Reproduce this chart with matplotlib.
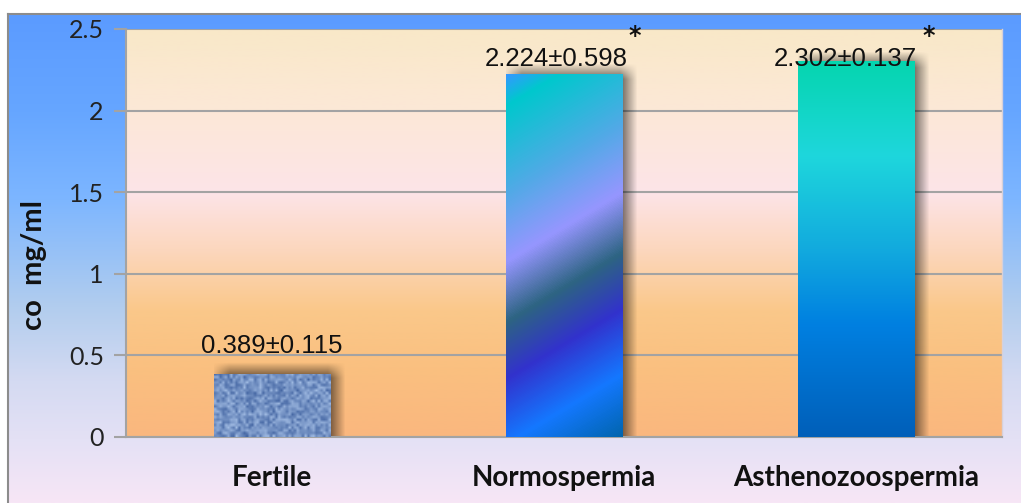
import numpy as np
import matplotlib
matplotlib.use("Agg")
import matplotlib.pyplot as plt

# ── Data ──────────────────────────────────────────────────────────────
groups = ["Fertile", "Normospermia", "Asthenozoospermia"]
means  = [0.389, 2.224, 2.302]
sds    = [0.115, 0.598, 0.137]
sig    = ["", "*", "*"]
yticks = [0, 0.5, 1, 1.5, 2, 2.5]
ylabel = "co  mg/ml"

# ── Helpers ───────────────────────────────────────────────────────────
def grad(stops, n):
    """stops: list of (pos, (r,g,b)) -> n x 3 array"""
    pos = np.array([p for p, _ in stops])
    cols = np.array([c for _, c in stops], float) / 255
    t = np.linspace(0, 1, n)
    return np.stack([np.interp(t, pos, cols[:, k]) for k in range(3)], axis=1)

W, H = 1021, 503
fig = plt.figure(figsize=(W / 100, H / 100), dpi=100)
fig.patch.set_facecolor("white")

# outer frame with blue -> lavender gradient
bg = fig.add_axes([8 / W, 0, (W - 8) / W, (H - 14) / H])
bg_stops = [(0.0, (91, 155, 255)), (0.2, (102, 166, 255)), (0.38, (125, 182, 255)),
            (0.6, (178, 205, 238)), (0.75, (212, 218, 242)), (0.87, (228, 225, 245)),
            (1.0, (247, 230, 246))]
bg.imshow(grad(bg_stops, 300)[:, None, :], aspect="auto", extent=[0, 1, 0, 1])
bg.set_xticks([]); bg.set_yticks([])
for sp in bg.spines.values():
    sp.set_color("#8c8c8c"); sp.set_linewidth(1.5)
bg.spines["bottom"].set_visible(False)
bg.spines["right"].set_visible(False)

# plot area
ax = fig.add_axes([126 / W, (H - 437) / H, 876 / W, 408 / H])
pa_stops = [(0.0, (249, 232, 200)), (0.2, (252, 232, 215)), (0.4, (253, 228, 232)),
            (0.54, (252, 215, 190)), (0.69, (250, 200, 138)), (0.83, (250, 192, 128)),
            (1.0, (250, 183, 126))]
x = np.arange(len(groups))
ax.set_xlim(-0.5, len(groups) - 0.5)
ax.set_ylim(0, 2.5)
ax.imshow(grad(pa_stops, 300)[:, None, :], aspect="auto",
          extent=[-0.5, len(groups) - 0.5, 0, 2.5], zorder=0)
ax.set_yticks(yticks)
ax.set_yticklabels([f"{v:g}" for v in yticks], fontsize=18, family="Lato", color="#222222")
ax.yaxis.grid(True, color="#a3a3a3", lw=1.5, zorder=1)
ax.tick_params(axis="y", length=9, width=1.5, color="#a3a3a3", pad=7)
ax.set_xticks(x)
ax.set_xticklabels(groups, fontsize=20, family="Lato", fontweight="bold", color="#111111")
ax.tick_params(axis="x", length=0, pad=20)
for k in ["left", "bottom"]:
    ax.spines[k].set_color("#a3a3a3"); ax.spines[k].set_linewidth(1.5)
ax.spines["top"].set_visible(False)
ax.spines["right"].set_color("#d8d0d8"); ax.spines["right"].set_linewidth(1)

bars = ax.bar(x, means, width=0.4, color="none", edgecolor="none", zorder=3)

# ── Bar fills ─────────────────────────────────────────────────────────
# denim texture (coarse weave, upscaled with bilinear smoothing)
ii, jj = np.mgrid[0:24, 0:44]
noise = (np.sin(ii * 12.9898 + jj * 78.233) * 43758.5453) % 1.0
weave = 0.5 + 0.3 * np.sin(ii * 2.4) * np.sin(jj * 2.2)
tex = np.clip(0.6 * noise + 0.4 * weave, 0, 1)
dark, light = np.array([50, 85, 150]) / 255, np.array([180, 205, 240]) / 255
denim = dark + tex[..., None] * (light - dark)

# diagonal stripes
nh, nw = 363, 117
yy, xx = np.mgrid[0:nh, 0:nw]
s = (0.6 * xx + yy) / (0.6 * nw + nh)
d_stops = [(0.0, (51, 153, 255)), (0.07, (0, 200, 205)), (0.27, (80, 170, 230)),
           (0.43, (150, 150, 255)), (0.57, (45, 100, 130)), (0.7, (50, 50, 205)),
           (0.85, (20, 120, 255)), (1.0, (0, 100, 170))]
lut = grad(d_stops, 256)
diag = lut[(s * 255).astype(int)]

# vertical teal -> blue
v_stops = [(0.0, (5, 213, 175)), (0.25, (30, 215, 220)), (0.5, (18, 170, 222)),
           (0.7, (0, 128, 225)), (1.0, (0, 95, 185))]
vert = grad(v_stops, 300)[:, None, :]

fills = [denim, diag, vert]

for b, img in zip(bars, fills):
    x0, w, h = b.get_x(), b.get_width(), b.get_height()
    # soft drop shadow, right and slightly up
    dx, dy, bl = 0.022, 0.02, 0.03
    gx = np.linspace(x0, x0 + w + dx + bl, 120)
    gy = np.linspace(0, h + dy + bl * 1.6, 120)
    GX, GY = np.meshgrid(gx, gy[::-1])
    fx = np.clip((GX - (x0 + dx - bl)) / (2 * bl), 0, 1) * \
         np.clip(((x0 + w + dx + bl) - GX) / (2 * bl), 0, 1)
    fy = np.clip(((h + dy + bl * 1.6) - GY) / (2 * bl * 1.6), 0, 1)
    sh = np.zeros(GX.shape + (4,))
    sh[..., 3] = 0.6 * fx * fy
    ax.imshow(sh, aspect="auto", extent=[gx[0], gx[-1], 0, gy[-1]],
              zorder=2, interpolation="bilinear")
    im = ax.imshow(img, aspect="auto", extent=[x0, x0 + w, 0, h], zorder=3,
                   interpolation="bilinear")
    im.set_clip_path(b)

# ── Annotations ───────────────────────────────────────────────────────
label_dx = [0.0, -0.026, -0.038]
label_dy = [0.126, 0.049, -0.029]
for xi, m, sd, ddx, ddy in zip(x, means, sds, label_dx, label_dy):
    ax.text(xi + ddx, m + ddy, f"{m:.3f}±{sd:.3f}", ha="center", va="baseline",
            fontsize=18.5, family="Liberation Sans", color="#111111", zorder=5)

star_dx = [0, 0.243, 0.25]
for xi, st, sdx in zip(x, sig, star_dx):
    if st:
        ax.text(xi + sdx, 2.455, st, ha="center", va="center", fontsize=17,
                fontweight="bold", family="DejaVu Sans", color="#111111",
                zorder=6, clip_on=False)

fig.text(34 / W, 1 - 265 / H, ylabel, rotation=90, ha="center", va="center",
         fontsize=21, fontweight="bold", family="Lato", color="#111111")

fig.savefig("out.png", dpi=100)
